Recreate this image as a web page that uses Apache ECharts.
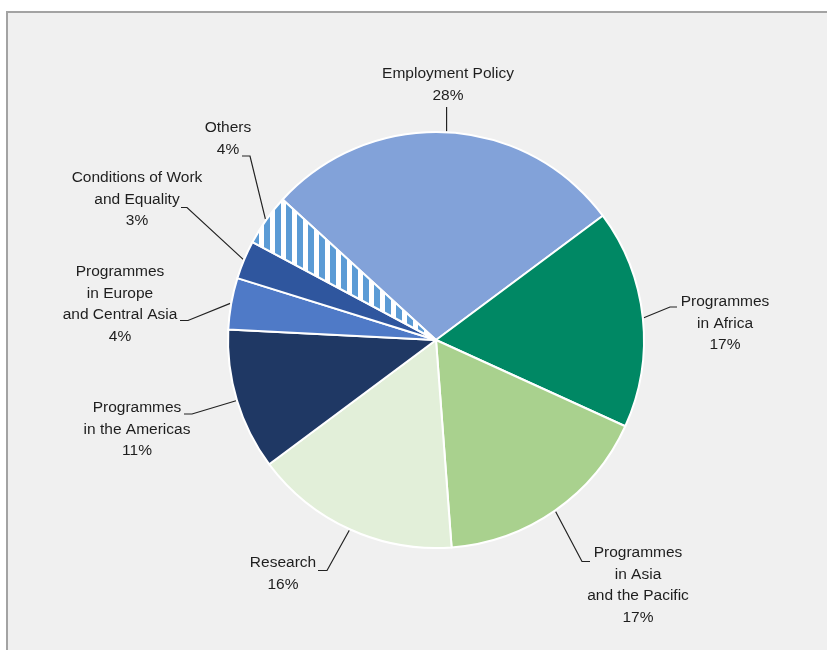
<!DOCTYPE html>
<html>
<head>
<meta charset="utf-8">
<script src="https://cdn.jsdelivr.net/npm/echarts@6/dist/echarts.min.js"></script>
<style>
  html, body { margin: 0; padding: 0; background: #ffffff; }
  #frame {
    position: absolute; left: 6px; top: 11px; width: 840px; height: 660px;
    background: #f0f0f0; border-top: 2px solid #a3a3a3; border-left: 2px solid #a3a3a3;
  }
  #chart { position: absolute; left: 0; top: 0; width: 827px; height: 650px; }
</style>
</head>
<body>
<div id="frame"></div>
<div id="chart"></div>
<script>
// Budget shares by programme area (%)
const categories = [
  'Employment Policy',
  'Programmes\nin Africa',
  'Programmes\nin Asia\nand the Pacific',
  'Research',
  'Programmes\nin the Americas',
  'Programmes\nin Europe\nand Central Asia',
  'Conditions of Work\nand Equality',
  'Others'
];
const shares = [28, 17, 17, 16, 11, 4, 3, 4];
const sliceColors = ['#82a2d9', '#008864', '#a9d18e', '#e2efd9', '#1f3864', '#4f7ac7', '#2f569e', 'stripes'];

// Pie geometry
const CX = 436, CY = 340, R = 208, START = 137.5;

// Label placement: text centre x, text block top, leader elbow, leader end
const labelSpots = [
  { x: 448, top: 63,  elbow: null,         end: [446.6, 107] },
  { x: 725, top: 291, elbow: [670, 307],   end: [677, 307] },
  { x: 638, top: 542, elbow: [582, 561.5], end: [590, 561.5] },
  { x: 283, top: 552, elbow: [327, 570.5], end: [318, 570.5] },
  { x: 137, top: 397, elbow: [192, 414],   end: [184, 414] },
  { x: 120, top: 261, elbow: [188, 320.5], end: [180, 320.5] },
  { x: 137, top: 167, elbow: [187, 207.5], end: [181, 207.5] },
  { x: 228, top: 117, elbow: [250, 156],   end: [242, 156] }
];

// Vertical stripe fill for the "Others" slice
function stripePattern() {
  const c = document.createElement('canvas');
  c.width = 11; c.height = 4;
  const g = c.getContext('2d');
  g.fillStyle = '#ffffff'; g.fillRect(0, 0, 11, 4);
  g.fillStyle = '#5b9bd5'; g.fillRect(0, 0, 6, 4);
  return { image: c, repeat: 'repeat' };
}

// Mid-angle edge point of each slice, from the shares
const total = shares.reduce((a, b) => a + b, 0);
const midPoints = [];
let acc = 0;
shares.forEach(v => {
  const mid = (START - (acc + v / 2) / total * 360) * Math.PI / 180;
  midPoints.push([CX + (R + 1) * Math.cos(mid), CY - (R + 1) * Math.sin(mid)]);
  acc += v;
});

const chart = echarts.init(document.getElementById('chart'), null, { renderer: 'canvas' });
chart.setOption({
  backgroundColor: 'transparent',
  animation: false,
  series: [{
    type: 'pie',
    center: [CX, CY],
    radius: R,
    startAngle: START,
    clockwise: true,
    avoidLabelOverlap: false,
    itemStyle: { borderColor: '#ffffff', borderWidth: 2 },
    label: {
      show: true,
      position: 'outside',
      formatter: p => p.name + '\n' + p.value + '%',
      fontFamily: '"Liberation Sans Narrow", "Arial Narrow", "Liberation Sans", Arial, sans-serif',
      fontSize: 15.5,
      lineHeight: 21.5,
      color: '#1e1e1e',
      align: 'center'
    },
    labelLine: { show: true, length: 10, length2: 10, lineStyle: { color: '#222222', width: 1.2 } },
    labelLayout: function (params) {
      const i = params.dataIndex;
      const s = labelSpots[i];
      const start = midPoints[i];
      const pts = s.elbow ? [start, s.elbow, s.end] : [start, [start[0], s.end[1]], [start[0], s.end[1]]];
      return { x: s.x, y: s.top, align: 'center', verticalAlign: 'top', labelLinePoints: pts };
    },
    emphasis: { disabled: true },
    data: categories.map((name, i) => ({
      name: name,
      value: shares[i],
      itemStyle: { color: sliceColors[i] === 'stripes' ? stripePattern() : sliceColors[i] }
    }))
  }]
});
</script>
</body>
</html>
